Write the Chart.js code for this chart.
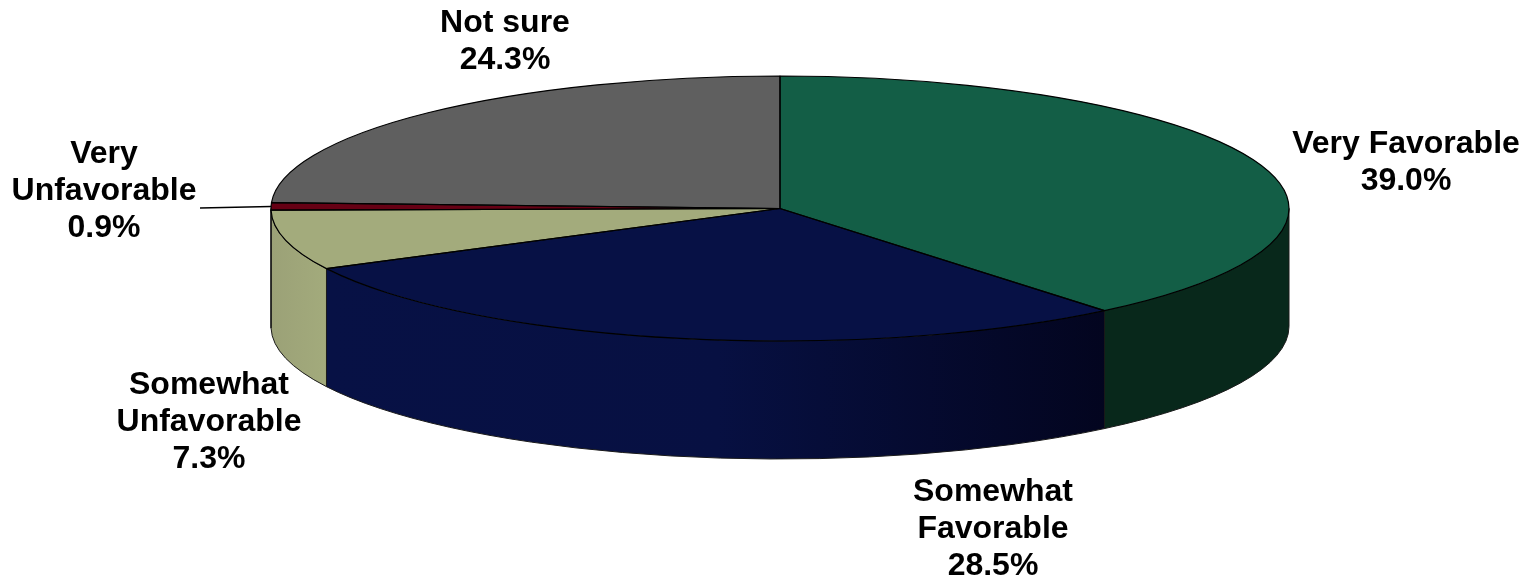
<!DOCTYPE html>
<html>
<head>
<meta charset="utf-8">
<style>
html,body{margin:0;padding:0;background:#fff;overflow:hidden}
canvas{display:block}
</style>
<script src="https://cdn.jsdelivr.net/npm/chart.js@4"></script>
</head>
<body>
<canvas id="c" width="1528" height="579"></canvas>
<script>
const categories = ["Very Favorable", "Somewhat Favorable", "Somewhat Unfavorable", "Very Unfavorable", "Not sure"];
const values = [39.0, 28.5, 7.3, 0.9, 24.3];
const topColors = ["#135E46", "#071145", "#A3AB7C", "#660014", "#5F5F5F"];
const labelLines = [
  ["Very Favorable", "39.0%"],
  ["Somewhat", "Favorable", "28.5%"],
  ["Somewhat", "Unfavorable", "7.3%"],
  ["Very", "Unfavorable", "0.9%"],
  ["Not sure", "24.3%"]
];
const labelCenters = [[1406, 144], [993, 492], [209, 385], [104, 154], [505, 23]];

const PIE = {cy: 208.5, rx: 509, ry: 132.5, depth: 118};

function wallFill(ctx, i) {
  if (i === 1) {
    const g = ctx.createLinearGradient(328, 0, 1107, 0);
    g.addColorStop(0, "#071145");
    g.addColorStop(0.5, "#071042");
    g.addColorStop(1, "#03051F");
    return g;
  }
  if (i === 0) return "#08281B";
  if (i === 2) {
    const g = ctx.createLinearGradient(271, 0, 328, 0);
    g.addColorStop(0, "#9BA177");
    g.addColorStop(1, "#A3AB7C");
    return g;
  }
  return topColors[i];
}

const pie3d = {
  id: "pie3d",
  beforeDatasetsDraw(chart) {
    const ctx = chart.ctx;
    const arcs = chart.getDatasetMeta(0).data;
    const cx = arcs[0].x;
    ctx.save();
    // side walls: only the front half of the disc is visible
    arcs.forEach((a, i) => {
      const lo = Math.max(a.startAngle, 0), hi = Math.min(a.endAngle, Math.PI);
      if (hi <= lo) return;
      ctx.beginPath();
      ctx.ellipse(cx, PIE.cy, PIE.rx, PIE.ry, 0, lo, hi);
      ctx.ellipse(cx, PIE.cy + PIE.depth, PIE.rx, PIE.ry, 0, hi, lo, true);
      ctx.closePath();
      ctx.fillStyle = wallFill(ctx, i);
      ctx.fill();
      ctx.lineWidth = 1;
      ctx.strokeStyle = "#1a1a1a";
      ctx.stroke();
    });
    ctx.restore();
    ctx.save();
    ctx.translate(0, PIE.cy);
    ctx.scale(1, PIE.ry / PIE.rx);
    ctx.translate(0, -arcs[0].y);
  },
  afterDatasetsDraw(chart) {
    const ctx = chart.ctx;
    ctx.restore();
    const arcs = chart.getDatasetMeta(0).data;
    const cx = arcs[0].x;
    // slice outlines, drawn unscaled so the pen stays even
    ctx.save();
    ctx.lineWidth = 1.2;
    ctx.strokeStyle = "#000";
    ctx.lineJoin = "round";
    arcs.forEach(a => {
      ctx.beginPath();
      ctx.moveTo(cx, PIE.cy);
      ctx.ellipse(cx, PIE.cy, PIE.rx, PIE.ry, 0, a.startAngle, a.endAngle);
      ctx.closePath();
      ctx.stroke();
    });
    // leader for the thin slice
    const thin = arcs[3];
    const mid = (thin.startAngle + thin.endAngle) / 2;
    ctx.beginPath();
    ctx.moveTo(200, 208);
    ctx.lineTo(cx + PIE.rx * Math.cos(mid), PIE.cy + PIE.ry * Math.sin(mid));
    ctx.strokeStyle = "#000";
    ctx.lineWidth = 1.5;
    ctx.stroke();
    // labels
    ctx.fillStyle = "#000";
    ctx.font = "bold 32px 'Liberation Sans', Arial, sans-serif";
    ctx.textAlign = "center";
    ctx.textBaseline = "middle";
    labelLines.forEach((lines, i) => {
      lines.forEach((t, j) => {
        ctx.fillText(t, labelCenters[i][0], labelCenters[i][1] + j * 37);
      });
    });
    ctx.restore();
  }
};

new Chart(document.getElementById("c"), {
  type: "pie",
  data: {
    labels: categories,
    datasets: [{
      data: values,
      backgroundColor: topColors,
      borderWidth: 0,
      clip: false
    }]
  },
  options: {
    responsive: false,
    animation: false,
    radius: PIE.rx,
    rotation: 0,
    layout: {padding: {left: 32}},
    events: [],
    plugins: {legend: {display: false}, tooltip: {enabled: false}, title: {display: false}}
  },
  plugins: [pie3d]
});
</script>
</body>
</html>
